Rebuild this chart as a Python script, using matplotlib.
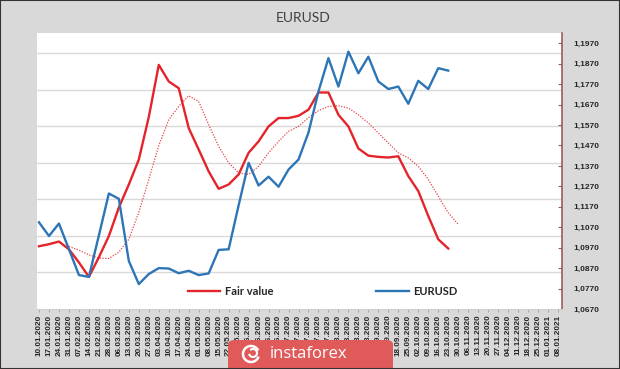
import numpy as np
import pandas as pd
import matplotlib
matplotlib.use('Agg')
import matplotlib.pyplot as plt
from matplotlib.patches import FancyBboxPatch, Rectangle, Arc

# weekly categories on the x axis
dates = pd.date_range('2020-01-10', periods=53, freq='7D').strftime('%d.%m.%Y').tolist()

# EURUSD (blue), weeks 0..41
eurusd = [1.1094, 1.1027, 1.1088, 1.0962, 1.0836, 1.0827, 1.1030, 1.1235, 1.1209, 1.0905,
          1.0792, 1.0841, 1.0870, 1.0868, 1.0845, 1.0857, 1.0836, 1.0844, 1.0959, 1.0962,
          1.1177, 1.1385, 1.1274, 1.1317, 1.1268, 1.1352, 1.1401, 1.1533, 1.1734, 1.1897,
          1.1758, 1.1929, 1.1823, 1.1904, 1.1783, 1.1746, 1.1758, 1.1674, 1.1786, 1.1746,
          1.1848, 1.1836]

# fair value (red), weeks 0..41
fair_value = [1.0977, 1.0987, 1.1000, 1.0962, 1.0898, 1.0827, 1.0923, 1.1027, 1.1166, 1.1279,
              1.1401, 1.1609, 1.1864, 1.1783, 1.1750, 1.1555, 1.1450, 1.1343, 1.1258, 1.1279,
              1.1328, 1.1434, 1.1490, 1.1563, 1.1604, 1.1604, 1.1615, 1.1645, 1.1729, 1.1729,
              1.1620, 1.1563, 1.1455, 1.1420, 1.1414, 1.1411, 1.1417, 1.1320, 1.1247, 1.1125,
              1.1011, 1.0966]

# fair value trend (dotted), weeks 3..42
trend_start = 3
fair_trend = [1.0976, 1.0958, 1.0935, 1.0919, 1.0917, 1.0948, 1.1011, 1.1143, 1.1304, 1.1469,
              1.1596, 1.1661, 1.1713, 1.1685, 1.1572, 1.1466, 1.1385, 1.1336, 1.1328, 1.1368,
              1.1434, 1.1490, 1.1539, 1.1563, 1.1606, 1.1640, 1.1661, 1.1664, 1.1653, 1.1620,
              1.1580, 1.1531, 1.1482, 1.1434, 1.1409, 1.1368, 1.1304, 1.1222, 1.1141, 1.1084]

y_ticks = np.round(np.arange(1.067, 1.1971, 0.01), 4)

red = '#E3242B'
blue = '#2E75B6'

fig = plt.figure(figsize=(6.2, 3.69), dpi=100)
fig.patch.set_facecolor('#D9D9D9')
ax = fig.add_axes([37/620, 1 - 309/369, 525/620, 276/369])
ax.set_facecolor('white')

# light gridlines from the hidden primary axis
for g in 1.067 + 0.01787 * np.arange(1, 8):
    ax.axhline(g, color='#D9D9D9', lw=1.0, zorder=0)

x = np.arange(len(eurusd))
ax.plot(np.arange(trend_start, trend_start + len(fair_trend)), fair_trend,
        color=red, lw=0.9, ls=(0, (1, 1.2)), alpha=0.85, zorder=2)
ax.plot(x, fair_value, color=red, lw=1.7, label='Fair value', zorder=3)
ax.plot(x, eurusd, color=blue, lw=1.7, label='EURUSD', zorder=3)

ax.set_xlim(-0.2, 52.4)
ax.set_ylim(1.067, 1.202)

ax.yaxis.tick_right()
ax.set_yticks(y_ticks)
ax.set_yticklabels([('%.4f' % v).replace('.', ',') for v in y_ticks],
                   fontsize=6, fontweight='bold', family='Liberation Sans', color='#262626')
ax.tick_params(axis='y', direction='in', length=3, width=0.8, color='#9E5A5A', pad=8)

ax.set_xticks(np.arange(len(dates)))
ax.set_xticklabels(dates, rotation=90, fontsize=5.9, fontweight='bold',
                   family='Liberation Sans', color='#262626')
ax.tick_params(axis='x', length=2, width=0.6, color='#A0A0A0', pad=2)

for s in ['top', 'left']:
    ax.spines[s].set_visible(False)
ax.spines['bottom'].set_color('#D0D0D0')
ax.spines['right'].set_color('#9E5A5A')
ax.spines['right'].set_linewidth(1.2)

leg = ax.legend(loc='center', bbox_to_anchor=(0.544, 0.062), ncol=2, frameon=False,
                handlelength=2.9, handletextpad=0.4, columnspacing=9.3,
                prop={'family': 'Lato', 'weight': 'bold', 'size': 8})
for t in leg.get_texts():
    t.set_color('#262626')

fig.text(0.489, 1 - 18/369, 'EURUSD', ha='center', va='center', fontsize=10,
         family='Lato', color='#404040')

# logo box at the bottom
logo = FancyBboxPatch((228/620, -0.02), 165/620, (369-340)/369 + 0.02,
                      boxstyle='round,pad=0,rounding_size=0.012', transform=fig.transFigure,
                      facecolor='#E05A5A', edgecolor='none', zorder=10)
fig.patches.append(logo)
fig.patches.append(Arc((251/620, 1 - 354/369), 16/620, 16/369, theta1=40, theta2=330,
                       transform=fig.transFigure, color='white', lw=1.8, zorder=11))
fig.patches.append(Arc((253/620, 1 - 353/369), 8/620, 8/369, theta1=200, theta2=120,
                       transform=fig.transFigure, color='white', lw=1.5, zorder=11))
fig.text(270/620, 1 - 358/369, 'instaforex', ha='left', va='baseline', fontsize=12,
         family='Open Sans', color='white', zorder=12)

fig.patches.append(Rectangle((0, 0), 1, 1, transform=fig.transFigure, facecolor='none',
                             edgecolor='#333333', lw=1.5, zorder=20))

plt.savefig('out.png', dpi=100)
